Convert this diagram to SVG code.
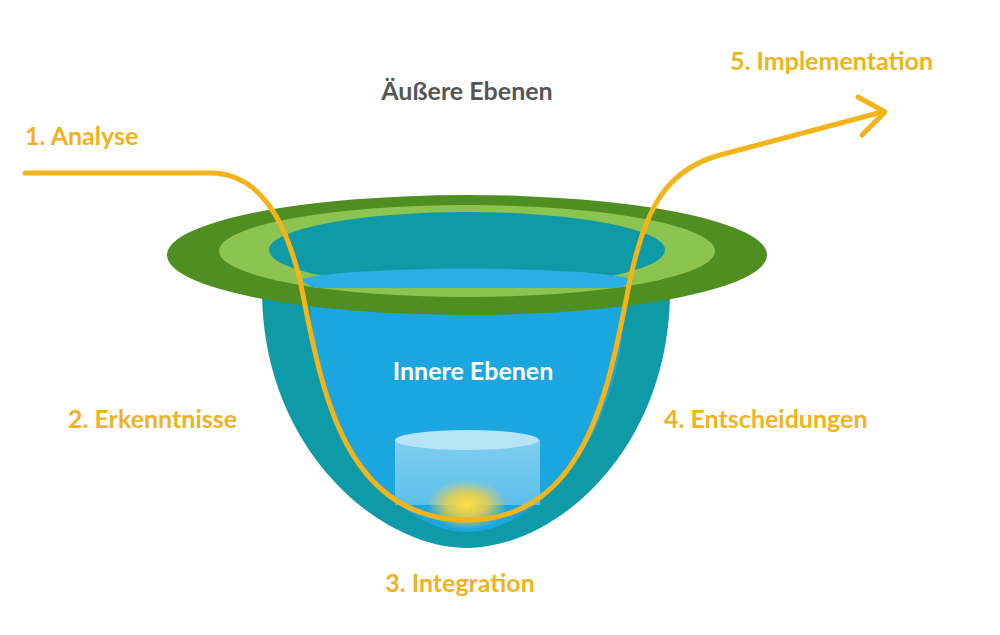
<svg xmlns="http://www.w3.org/2000/svg" width="1000" height="635" viewBox="0 0 1000 635">
<defs>
<style>
.lbl{font-family:"Lato","Open Sans",sans-serif;font-weight:bold;font-size:25px;fill:#f0b21e}
</style>
<radialGradient id="glow"><stop offset="0" stop-color="#ffe040"/><stop offset="0.5" stop-color="#f8d040" stop-opacity="0.8"/><stop offset="1" stop-color="#f8d040" stop-opacity="0"/></radialGradient>
<linearGradient id="cyl" x1="0" y1="0" x2="0" y2="1"><stop offset="0" stop-color="#9ad8f2"/><stop offset="1" stop-color="#6cc6ee"/></linearGradient>
<marker id="ah" markerWidth="10" markerHeight="10" refX="6" refY="5" orient="auto" markerUnits="userSpaceOnUse" viewBox="0 0 10 10"><path d="M0,0 L6,5 L0,10" fill="none" stroke="#f2b418" stroke-width="1"/></marker>
</defs>
<rect width="1000" height="635" fill="#fff"/>
<g id="bowl">
<path d="M262,290 C262,450 380,548 467,548 C555,548 670,450 670,290 Z" fill="#0e9aa6"/>
<path d="M310,292 C310,440 400,532 467,532 C535,532 625,440 625,292 Z" fill="#1ba6e0"/>
<ellipse cx="467" cy="255" rx="300" ry="60" fill="#4f8f22"/>
<ellipse cx="467" cy="251" rx="248" ry="46" fill="#8cc452"/>
<ellipse cx="467" cy="250" rx="198" ry="38" fill="#0e9aa6"/>
<path d="M300,280 A170,14 0 0 1 634,280 L620,288 L314,288 Z" fill="#2aaee6"/>
<rect x="395" y="440" width="145" height="65" fill="url(#cyl)" opacity="0.8"/>
<ellipse cx="467" cy="440" rx="72" ry="10" fill="#b6e4f6"/>
<ellipse cx="467" cy="505" rx="40" ry="25" fill="url(#glow)"/>
</g>
<g id="connectors">
<path d="M25,173 L210,173 C260,173 285,220 300,280 C320,380 340,520 467,520 C590,520 610,380 630,280 C645,210 665,170 720,155 L882,112" fill="none" stroke="#f2b418" stroke-width="5" stroke-linecap="round"/>
<path d="M858,97 L885,112 L862,135" fill="none" stroke="#f2b418" stroke-width="5" stroke-linecap="round" stroke-linejoin="round"/>
</g>
<g id="labels">
<text x="467" y="100" text-anchor="middle" style="font-family:Lato,'Open Sans',sans-serif;font-weight:bold;font-size:25px;fill:#555">Äußere Ebenen</text>
<text x="473" y="380" text-anchor="middle" style="font-family:Lato,'Open Sans',sans-serif;font-weight:bold;font-size:25px;fill:#fff">Innere Ebenen</text>
<text class="lbl" x="25" y="145">1. Analyse</text>
<text class="lbl" x="68" y="428">2. Erkenntnisse</text>
<text class="lbl" x="460" y="592" text-anchor="middle">3. Integration</text>
<text class="lbl" x="664" y="428">4. Entscheidungen</text>
<text class="lbl" x="730" y="70">5. Implementation</text>
</g>
</svg>
